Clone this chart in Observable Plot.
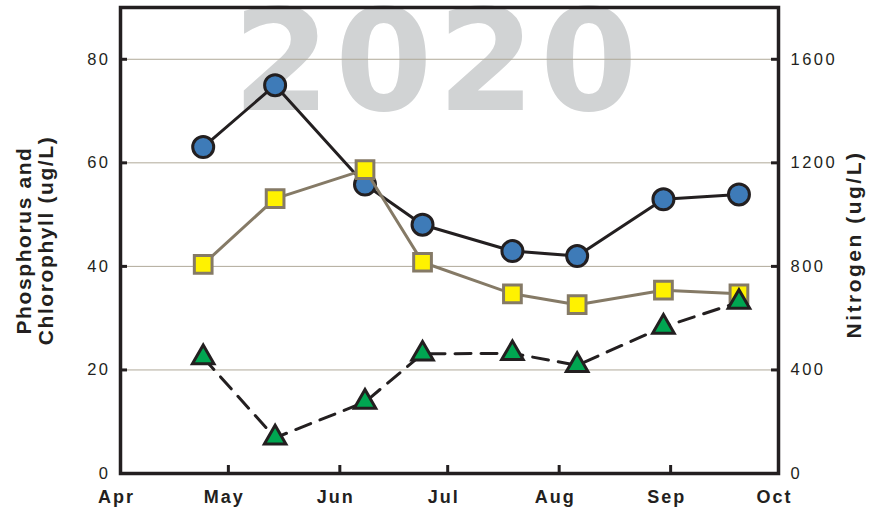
<!DOCTYPE html>
<html><head><meta charset="utf-8">
<script src="https://cdn.jsdelivr.net/npm/d3@7"></script>
<script src="https://cdn.jsdelivr.net/npm/@observablehq/plot@0.6"></script>
<style>
body{margin:0;background:#fff}
svg{font-family:"Liberation Sans",Arial,Helvetica,sans-serif}
</style>
</head><body><div id="chart"></div>
<script>
// ---- data ----
const sampleDates = ["2020-04-24","2020-05-14","2020-06-08","2020-06-24","2020-07-19","2020-08-06","2020-08-30","2020-09-20"];
const nitrogen    = [1261, 1500, 1116, 961, 859, 840, 1059, 1078];   // ug/L (right axis)
const phosphorus  = [40.4, 53.1, 58.7, 40.8, 34.7, 32.6, 35.4, 34.7]; // ug/L (left axis)
const chlorophyll = [22.4, 6.9, 13.8, 23.1, 23.2, 20.9, 28.3, 33.1];  // ug/L (left axis)
const monthTicks  = ["2020-04-01","2020-05-01","2020-06-01","2020-07-01","2020-08-01","2020-09-01","2020-10-01"];
const monthLabels = ["Apr","May","Jun","Jul","Aug","Sep","Oct"];
const leftTicks   = [0, 20, 40, 60, 80];
const rightTicks  = [0, 400, 800, 1200, 1600];
const gridTicks   = [20, 40, 60, 80];
const leftTitle   = "Phosphorus and\nChlorophyll (ug/L)";
const rightTitle  = "Nitrogen (ug/L)";
const yearLabel   = "2020";
const leftMax = 90, nitrogenRatio = 20;

// ---- build tables ----
const dates = sampleDates.map(s => new Date(s));
const tDates = monthTicks.map(s => new Date(s));
const labelOf = new Map(tDates.map((d, i) => [+d, monthLabels[i]]));
const nData = dates.map((d, i) => ({date: d, v: nitrogen[i] / nitrogenRatio}));
const pData = dates.map((d, i) => ({date: d, v: phosphorus[i]}));
const cData = dates.map((d, i) => ({date: d, v: chlorophyll[i]}));
const rightTickPos = rightTicks.map(v => v / nitrogenRatio);

const W = 884, H = 512, mL = 120, mR = 106, mT = 7, mB = 39;
const frameW = W - mL - mR, frameH = H - mT - mB;
const ink = "#231f20";

const chart = Plot.plot({
  width: W, height: H,
  marginLeft: mL, marginRight: mR, marginTop: mT, marginBottom: mB,
  x: {type: "utc", domain: [tDates[0], tDates[tDates.length - 1]]},
  y: {domain: [0, leftMax]},
  marks: [
    Plot.text([yearLabel], {text: d => d, frameAnchor: "top", lineAnchor: "top", dx: -12, dy: 3,
      fontSize: 140, fontWeight: "bold", fontFamily: "'DejaVu Sans', sans-serif", fill: "#d1d3d4"}),
    Plot.gridY(gridTicks, {stroke: "#b0a999", strokeOpacity: 1, strokeWidth: 1}),
    Plot.frame({stroke: ink, strokeWidth: 3.5}),
    Plot.tickY(leftTicks, {y: d => d, insetRight: frameW - 7, stroke: ink, strokeWidth: 3}),
    Plot.tickY(rightTickPos, {y: d => d, insetLeft: frameW - 7, stroke: ink, strokeWidth: 3}),
    Plot.tickX(tDates, {x: d => d, insetTop: frameH - 8, stroke: ink, strokeWidth: 3}),
    Plot.axisY(leftTicks, {anchor: "left", tickSize: 0, tickPadding: 10, fontSize: 16.5, color: ink, label: null}),
    Plot.axisY(rightTickPos, {anchor: "right", tickSize: 0, tickPadding: 12, fontSize: 16.5, color: ink, label: null,
      tickFormat: d => String(Math.round(d * nitrogenRatio))}),
    Plot.axisX(tDates, {anchor: "bottom", tickSize: 0, tickPadding: 17, fontSize: 18, fontWeight: "bold", color: ink,
      label: null, dx: -4, tickFormat: d => labelOf.get(+d)}),
    Plot.text([leftTitle], {text: d => d, frameAnchor: "left", rotate: -90, dx: -86, fontSize: 21, fontWeight: "bold",
      lineHeight: 1.05, lineAnchor: "middle", textAnchor: "middle", fill: ink}),
    Plot.text([rightTitle], {text: d => d, frameAnchor: "right", rotate: -90, dx: 76, dy: 4, fontSize: 21, fontWeight: "bold",
      lineAnchor: "middle", textAnchor: "middle", fill: ink}),
    // Nitrogen
    Plot.line(nData, {x: "date", y: "v", stroke: ink, strokeWidth: 3}),
    Plot.dot(nData, {x: "date", y: "v", r: 10.5, symbol: "circle", fill: "#3e7bb8", stroke: ink, strokeWidth: 3}),
    // Phosphorus
    Plot.line(pData, {x: "date", y: "v", stroke: "#857a66", strokeWidth: 3}),
    Plot.dot(pData, {x: "date", y: "v", r: 10, symbol: "square", fill: "#fff200", stroke: "#857a66", strokeWidth: 3}),
    // Chlorophyll
    Plot.line(cData, {x: "date", y: "v", stroke: ink, strokeWidth: 3, strokeDasharray: "16,10"}),
    Plot.dot(cData, {x: "date", y: "v", r: 8, symbol: "triangle", fill: "#00a651", stroke: ink, strokeWidth: 3})
  ]
});

const svg = chart;
svg.querySelectorAll("text").forEach(t => {
  const s = t.textContent;
  if (s === yearLabel) t.setAttribute("letter-spacing", 5);
  else if (s === rightTitle) t.setAttribute("letter-spacing", 2.5);
});
svg.querySelectorAll('[aria-label="text"] text').forEach(t => {
  if (t.textContent !== yearLabel && t.textContent !== rightTitle) t.setAttribute("letter-spacing", 1.6);
});
svg.querySelectorAll('[aria-label="y-axis tick label"] text').forEach(t => t.setAttribute("letter-spacing", 2.5));
svg.querySelectorAll('[aria-label="x-axis tick label"] text').forEach(t => t.setAttribute("letter-spacing", 2));
document.getElementById("chart").appendChild(chart);
</script>
</body></html>
